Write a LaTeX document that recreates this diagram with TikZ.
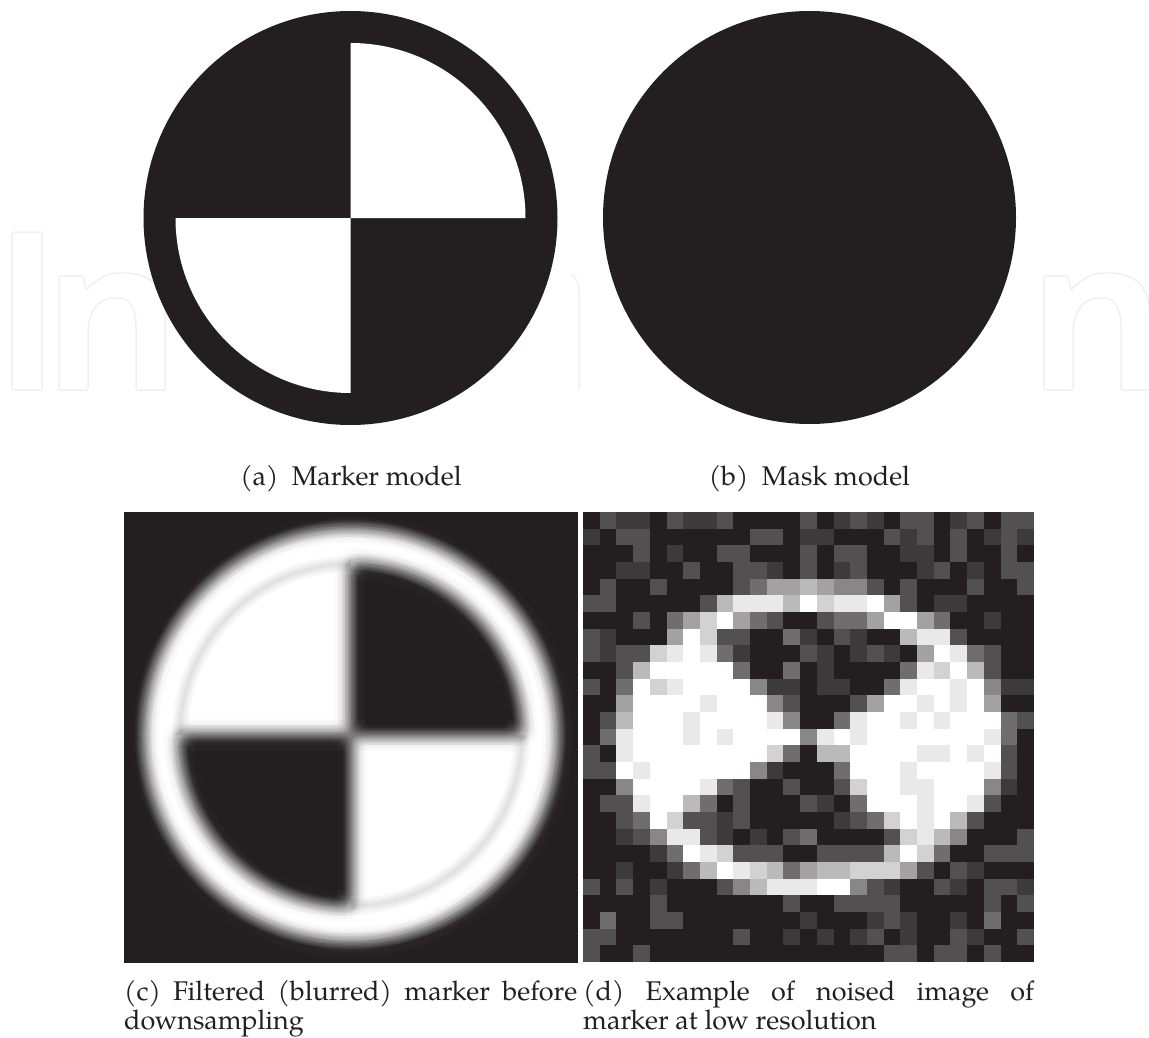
\documentclass[tikz,border=0pt]{standalone}
\usepackage{fontspec}
\setmainfont{TeX Gyre Pagella}
\definecolor{dk}{RGB}{35,31,32}
\definecolor{wm}{gray}{0.94}
\newcount\laycnt
\tikzset{
  wmline/.style={draw=wm, line width=1.5pt, rounded corners=2pt},
  captxt/.style={inner sep=0pt, text=dk, font=\fontsize{27}{31}\selectfont},
  gridcell/.style={line width=0pt},
  softgap/.style={draw=dk, draw opacity=0.03, line cap=butt}
}
\newcommand\wmletter[1]{%
  \begin{scope}[shift={(#1,0)}]
    \draw[wmline] (0,390) -- (0,276) -- (24,276) -- (27,290)
      .. controls (38,279) and (48,273) .. (62,273)
      .. controls (92,273) and (106,287) .. (106,318)
      -- (106,390) -- (77,390) -- (77,328)
      .. controls (77,308) and (70,298) .. (58,298)
      .. controls (40,298) and (29,310) .. (29,335)
      -- (29,390) -- cycle;
  \end{scope}}
\begin{document}
\begin{tikzpicture}[x=1pt,y=-1pt]
\useasboundingbox (0,0) rectangle (1149,1038);
\fill[white] (0,0) rectangle (1149,1038);

% ---------- faint watermark (behind the top figures)
\draw[wmline] (12,232) rectangle (42,390);
\wmletter{59}
\wmletter{1044}
\draw[wmline] (571,274) .. controls (576,277) and (579,284) .. (579,294) -- (579,390);

% ---------- (a) marker model
\fill[dk] (350.5,218) circle (207);
\fill[white] (350.5,218) -- ++(175,0) arc[start angle=0,end angle=-90,radius=175] -- cycle;
\fill[white] (350.5,218) -- ++(-175,0) arc[start angle=180,end angle=90,radius=175] -- cycle;

% ---------- (b) mask model
\fill[dk] (809.5,217.5) circle (206.5);

% ---------- captions a, b
\node[captxt, anchor=base] (capa) at (351,485) {(a)\hspace{0.5em}Marker model};
\node[captxt, anchor=base] (capb) at (809.5,485) {(b)\hspace{0.5em}Mask model};

% ---------- (c) blurred marker: average of shifted copies (gaussian-like sampling)
\begin{scope}
  \clip (124,512) rectangle (577,962);
  \fill[dk] (124,512) rectangle (577,962);
  \global\laycnt=0
  \foreach \rad [count=\k] in {2.5,4.5,6.1,7.5,9.0,10.7,12.8,16.5}{
    \foreach \ang in {0,36,...,324}{
      \global\advance\laycnt by 1
      \pgfmathsetmacro\alp{1/\the\laycnt}
      \begin{scope}[transparency group, opacity=\alp]
        \begin{scope}[opacity=1, shift={(\ang+18*\k:\rad)}]
          \fill[dk] (100,490) rectangle (600,985);
          \fill[white] (351,735) circle (208);
          \fill[dk] (351,735) -- ++(171,0) arc[start angle=0,end angle=-90,radius=171] -- cycle;
          \fill[dk] (351,735) -- ++(-171,0) arc[start angle=180,end angle=90,radius=171] -- cycle;
        \end{scope}
      \end{scope}
    }
  }
  % faint soft seam between the white ring and the white quadrants
  \foreach \w in {16,11,7,3}{
    \draw[softgap, line width=\w pt] (351,735) ++(180:171) arc[start angle=180,end angle=270,radius=171];
    \draw[softgap, line width=\w pt] (351,735) ++(0:171) arc[start angle=0,end angle=90,radius=171];
  }
\end{scope}

% ---------- (d) noisy low resolution marker (27 x 27 cells)
\foreach \row [count=\j from 0] in {
 {0,2,1,1,0,2,1,1,2,0,0,0,0,2,0,1,2,1,0,2,2,0,1,2,0,2,2},
 {1,0,2,2,0,0,0,0,0,0,2,2,0,1,1,0,0,0,2,1,2,0,2,0,1,2,1},
 {0,0,0,2,0,1,0,0,2,2,0,0,0,2,0,2,2,0,0,1,1,0,2,0,0,2,0},
 {0,0,1,1,0,0,2,0,0,2,2,1,0,2,0,1,2,0,0,0,1,2,0,1,0,2,2},
 {0,2,0,0,2,0,0,0,0,2,3,5,5,6,5,4,4,2,0,2,0,0,0,2,0,0,2},
 {2,2,0,0,0,0,0,2,6,8,8,8,6,9,7,8,8,9,5,2,0,1,1,0,0,0,0},
 {0,0,0,2,0,3,5,7,9,5,3,2,0,0,2,3,3,5,9,9,5,3,0,0,1,0,0},
 {2,1,0,0,0,5,9,7,2,2,0,0,3,1,0,2,1,0,0,6,8,8,2,0,0,0,0},
 {2,1,2,2,7,8,9,8,3,1,0,0,0,2,1,0,1,2,1,0,5,9,8,3,2,0,0},
 {0,0,2,6,9,9,9,9,9,3,0,0,3,0,1,0,0,0,0,3,8,7,9,6,2,0,0},
 {2,0,3,9,7,8,9,9,9,9,4,1,1,0,1,1,0,0,3,8,9,9,8,9,4,1,1},
 {0,0,5,9,9,9,9,8,9,9,9,4,2,0,0,0,2,5,9,9,8,9,8,9,5,0,0},
 {0,2,6,9,9,9,8,9,9,9,9,8,4,0,0,3,8,9,9,8,9,8,9,9,9,3,2},
 {0,3,8,9,9,9,8,9,8,9,9,9,9,4,8,9,8,9,9,9,9,9,9,9,8,3,0},
 {2,0,8,9,9,9,9,9,9,9,9,7,3,0,6,6,9,9,9,9,8,8,9,8,9,2,0},
 {2,2,9,8,9,9,9,9,9,9,4,1,0,0,0,3,9,9,9,8,9,9,9,9,8,2,0},
 {0,0,4,9,9,9,9,8,3,2,0,0,2,0,0,2,7,9,9,8,8,9,9,9,4,1,0},
 {0,2,2,8,9,9,6,3,0,2,0,0,0,2,1,0,3,9,9,9,8,9,9,8,2,0,0},
 {0,0,2,3,9,7,2,2,1,2,0,0,0,0,0,1,2,3,7,9,8,9,6,2,0,0,0},
 {0,0,1,2,4,8,8,2,1,0,1,0,2,3,0,0,0,0,2,7,8,6,4,0,0,0,2},
 {0,0,0,0,1,3,9,8,7,2,2,2,0,0,2,2,2,2,6,9,7,3,0,0,2,2,2},
 {0,0,1,0,0,1,3,6,9,8,7,6,3,5,6,6,7,7,7,5,2,0,2,1,0,0,0},
 {2,0,2,0,1,0,0,0,2,4,6,8,8,8,9,9,4,2,1,0,0,2,1,0,2,2,1},
 {0,0,0,0,2,0,0,0,0,0,0,0,2,0,0,2,2,2,2,0,0,0,0,0,2,0,2},
 {0,3,0,0,2,2,0,0,0,0,0,0,0,1,0,0,0,1,2,1,0,0,1,0,3,0,0},
 {2,2,0,0,0,0,0,0,0,2,0,0,1,0,1,0,1,2,0,1,0,0,2,1,0,0,2},
 {2,0,0,2,0,0,0,0,0,0,0,0,0,0,0,0,0,0,2,2,0,2,2,0,2,0,0}}{
  \foreach \lv [count=\i from 0] in \row {
    \pgfmathsetmacro\pc{{0,12,22,35,46,58,69,80,90,100}[\lv]}
    \fill[gridcell, white!\pc!dk] (583+\i*451/27, 512+\j*450/27) rectangle +(451/27+0.4, 450/27+0.4);
  }
}

% ---------- captions c, d
\node[captxt, anchor=base west] (capc1) at (124,1000) {\makebox[453pt][s]{(c) Filtered (blurred) marker before}};
\node[captxt, anchor=base west] (capc2) at (124,1029) {downsampling};
\node[captxt, anchor=base west] (capd1) at (583,1000) {\makebox[451pt][s]{(d) Example of noised image of}};
\node[captxt, anchor=base west] (capd2) at (583,1029) {marker at low resolution};
\end{tikzpicture}
\end{document}
